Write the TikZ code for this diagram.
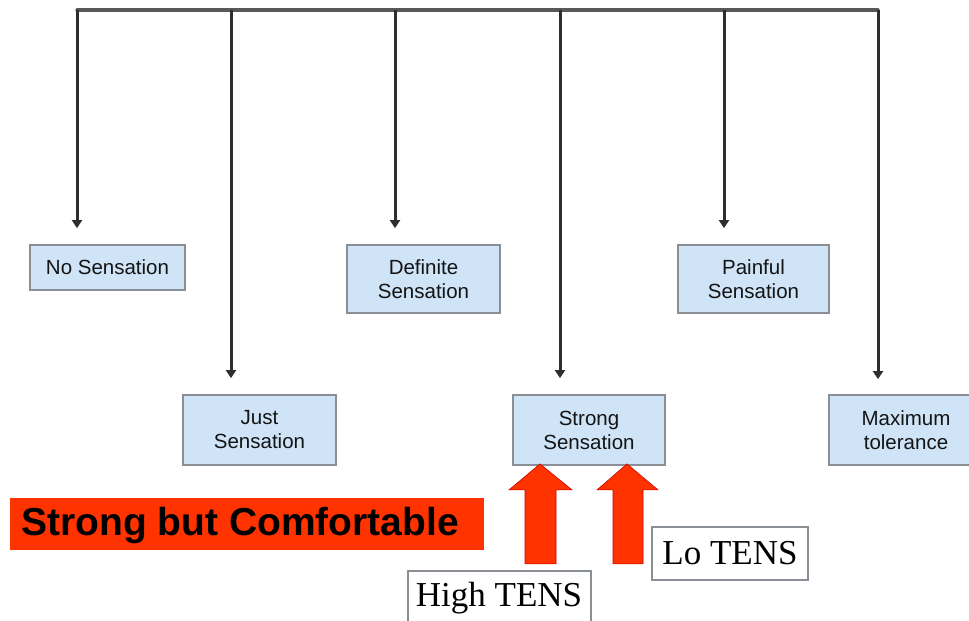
\documentclass[tikz,border=0pt]{standalone}
\usepackage{fontspec}
\setmainfont{Liberation Serif}
\newfontfamily\arialf{Liberation Sans}
\usetikzlibrary{arrows.meta}
\definecolor{boxfill}{HTML}{CFE4F7}
\definecolor{boxline}{HTML}{8A8F96}
\definecolor{linec}{HTML}{2E2E2E}
\definecolor{redc}{HTML}{FF3300}
\begin{document}
\begin{tikzpicture}[x=1pt,y=-1pt,
  lvl/.style={draw=boxline,line width=1.8pt,fill=boxfill,inner sep=0pt,
    font=\arialf\fontsize{20.5}{24}\selectfont,align=center,text=black!92},
  conn/.style={draw=linec,line width=3pt,-{Triangle[width=10pt,length=8pt]}},
  tens/.style={draw=boxline,line width=1.8pt,fill=white,inner sep=0pt,
    font=\fontsize{35}{40}\selectfont},
  redarrow/.style={fill=redc,draw=red!80!black,line width=0.6pt}]
\useasboundingbox (0,0) rectangle (969,621);
\fill[white] (0,0) rectangle (969,621);
% boxes
\node[lvl,minimum width=155pt,minimum height=45pt] (nosens) at (107.5,267.5) {No Sensation};
\node[lvl,minimum width=153pt,minimum height=68pt] (definite) at (423.5,279) {Definite\\Sensation};
\node[lvl,minimum width=151pt,minimum height=68pt] (painful) at (753.5,279) {Painful\\Sensation};
\node[lvl,minimum width=153pt,minimum height=70pt] (just) at (259.5,430) {Just\\Sensation};
\node[lvl,minimum width=152pt,minimum height=70pt] (strong) at (589,430) {Strong\\Sensation};
\node[lvl,minimum width=154pt,minimum height=70pt] (maxtol) at (906,430) {Maximum\\tolerance};
% bus
\coordinate (b1) at (77,10);
\coordinate (b2) at (231,10);
\coordinate (b3) at (395,10);
\coordinate (b4) at (560,10);
\coordinate (b5) at (724,10);
\coordinate (b6) at (878,10);
\draw[draw=linec!80,line width=3.2pt,line cap=round] (b1) -- (b6);
\draw[conn,shorten >=16pt] (b1) -- (b1 |- nosens.north);
\draw[conn,shorten >=16pt] (b2) -- (b2 |- just.north);
\draw[conn,shorten >=16pt] (b3) -- (b3 |- definite.north);
\draw[conn,shorten >=16pt] (b4) -- (b4 |- strong.north);
\draw[conn,shorten >=16pt] (b5) -- (b5 |- painful.north);
\draw[conn,shorten >=15pt] (b6) -- (b6 |- maxtol.north);
% red banner
\node[fill=redc,minimum width=474pt,minimum height=52pt,inner sep=0pt,
  font=\arialf\bfseries\fontsize{39}{42}\selectfont] (banner) at (247,524) {};
\node[font=\arialf\bfseries\fontsize{39}{42}\selectfont,inner sep=0pt,anchor=west] (bantext) at (21,525) {Strong but Comfortable};
% TENS boxes
\node[tens,minimum width=183pt,minimum height=62pt,anchor=north west] (hi) at (407,570) {};
\node[font=\fontsize{35}{40}\selectfont] (hitext) at (499,598) {High TENS};
\node[tens,minimum width=156pt,minimum height=53pt] (lo) at (730,553.5) {Lo TENS};
% block arrows
\coordinate (t1) at ([xshift=-49pt]strong.south);
\coordinate (t2) at ([xshift=38pt]strong.south);
\path[redarrow] ([yshift=2pt]t1) -- ++(32,26) -- ++(-16,0) -- ++(0,74) -- ++(-31,0) -- ++(0,-74) -- ++(-16,0) -- cycle;
\path[redarrow] ([yshift=2pt]t2) -- ++(31,26) -- ++(-15,0) -- ++(0,74) -- ++(-30,0) -- ++(0,-74) -- ++(-16,0) -- cycle;
\end{tikzpicture}
\end{document}
